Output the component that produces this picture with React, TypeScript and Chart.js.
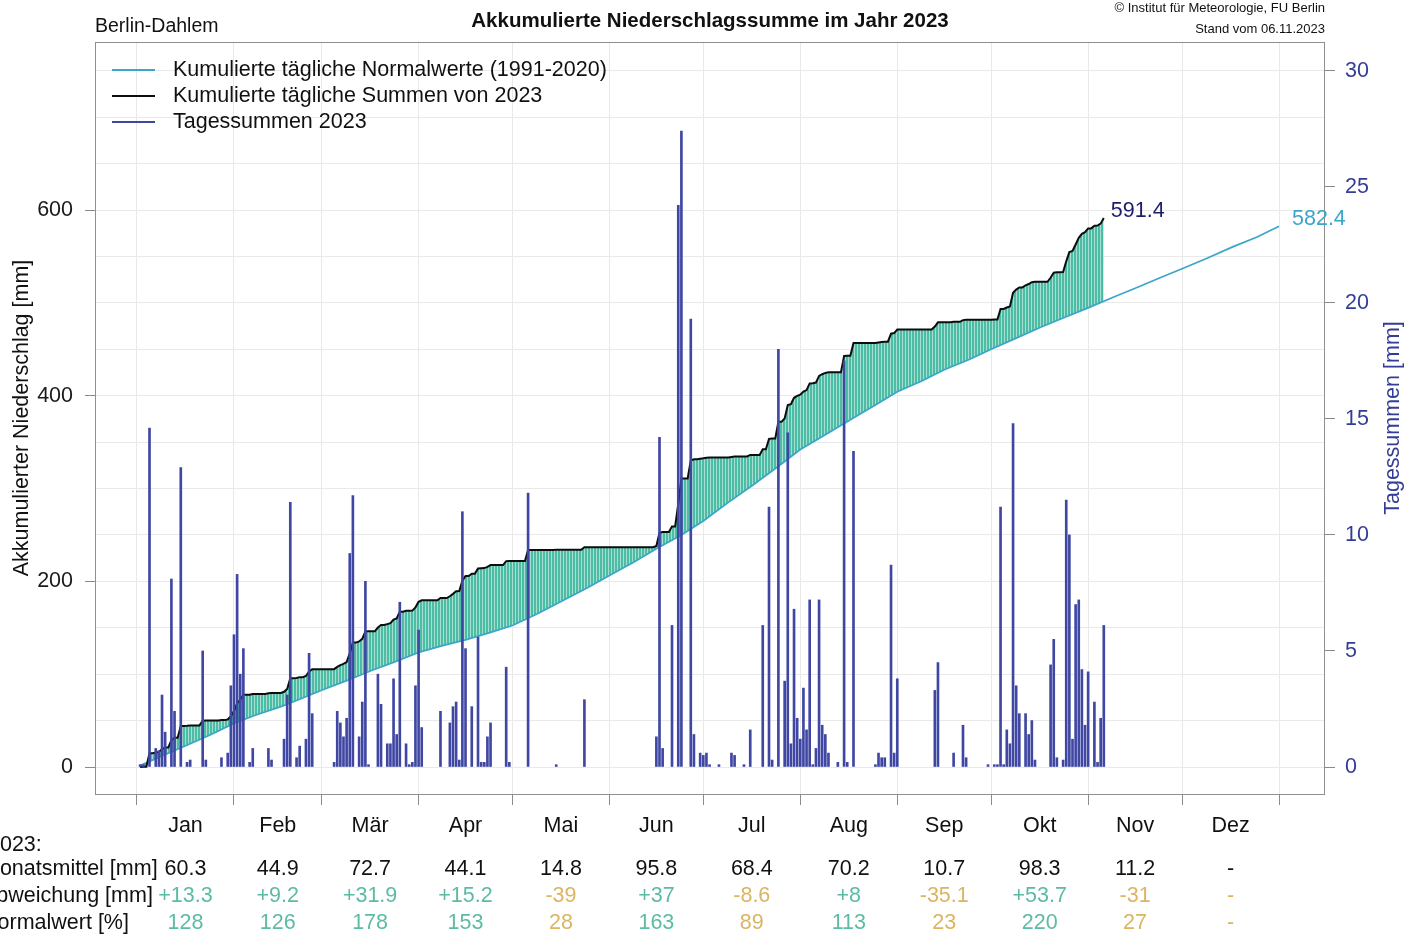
import React, { useEffect, useRef } from 'react';
import { Chart, registerables } from 'chart.js';
Chart.register(...registerables);

const FONT = '"Liberation Sans", Arial, Helvetica, sans-serif';

// ---------- data ----------
const monthNames = ['Jan', 'Feb', 'Mär', 'Apr', 'Mai', 'Jun', 'Jul', 'Aug', 'Sep', 'Okt', 'Nov', 'Dez'];
const monthStarts = [0, 31, 59, 90, 120, 151, 181, 212, 243, 273, 304, 334, 365];
const monthTotals = ['60.3', '44.9', '72.7', '44.1', '14.8', '95.8', '68.4', '70.2', '10.7', '98.3', '11.2', '-'];
const monthDeviation = ['+13.3', '+9.2', '+31.9', '+15.2', '-39', '+37', '-8.6', '+8', '-35.1', '+53.7', '-31', '-'];
const monthPercent = ['128', '126', '178', '153', '28', '163', '89', '113', '23', '220', '27', '-'];

const leftTickLabels = [0, 200, 400, 600];
const leftGridValues = [0, 50, 100, 150, 200, 250, 300, 350, 400, 450, 500, 550, 600, 650, 700, 750];
const rightTicks = [0, 5, 10, 15, 20, 25, 30];

// daily precipitation 2023 (day of year -> mm)
const rainDays = [
  1, 2, 4, 6, 7, 8, 9, 11, 12, 14, 16, 17, 21, 22, 27, 29, 30, 31,
  32, 33, 34, 36, 37, 42, 43, 47, 48, 49, 51, 52, 54, 55, 56,
  63, 64, 65, 66, 67, 68, 69, 71, 72, 73, 74, 77, 78, 80, 81, 82, 83, 84, 86, 87, 88, 89, 90,
  91, 97, 100, 101, 102, 103, 104, 105, 107, 109, 110, 111, 112, 113, 118, 119,
  125, 134, 143,
  166, 167, 168, 171, 173, 174, 177, 178, 180, 181,
  182, 183, 186, 190, 191, 194, 196, 200, 202, 203, 205, 207, 208, 209, 210, 211, 212,
  213, 214, 215, 216, 217, 218, 219, 220, 221, 224, 226, 227, 229, 236, 237, 238, 239, 241, 242, 243,
  255, 256, 261, 264, 265, 272,
  274, 275, 276, 277, 278, 279, 280, 281, 282, 284, 285, 286, 287, 292, 293, 294, 296, 297, 298, 299, 300, 301, 302, 303, 304,
  306, 307, 308, 309,
];
const rainMm = [
  0.1, 0.1, 14.6, 0.8, 0.7, 3.1, 1.5, 8.1, 2.4, 12.9, 0.2, 0.3, 5.0, 0.3, 0.4, 0.6, 3.5, 5.7,
  8.3, 4.0, 5.1, 0.2, 0.8, 0.8, 0.3, 1.2, 3.1, 11.4, 0.4, 0.9, 1.2, 4.9, 2.3,
  0.2, 2.4, 1.9, 1.3, 2.1, 9.2, 11.7, 1.3, 2.8, 8.0, 0.1, 4.0, 2.7, 1.0, 1.0, 3.8, 1.4, 7.1, 1.0, 0.1, 0.2, 3.5, 5.9,
  1.7, 2.4, 1.9, 2.6, 2.8, 0.3, 11.0, 5.1, 2.6, 5.6, 0.2, 0.2, 1.3, 1.9, 4.3, 0.2,
  11.8, 0.1, 2.9,
  1.3, 14.2, 0.8, 6.1, 24.2, 27.4, 19.3, 1.4, 0.6, 0.5,
  0.6, 0.1, 0.1, 0.6, 0.5, 0.1, 1.6, 6.1, 11.2, 0.3, 18.0, 3.7, 14.4, 1.0, 6.8, 2.1, 1.2,
  3.4, 1.6, 7.2, 0.1, 0.8, 7.2, 1.8, 1.4, 0.6, 0.2, 17.5, 0.2, 13.6, 0.1, 0.6, 0.4, 0.4, 8.7, 0.6, 3.8,
  3.3, 4.5, 0.6, 1.8, 0.4, 0.1,
  0.1, 0.1, 11.2, 0.1, 1.6, 1.0, 14.8, 3.5, 2.3, 2.3, 1.4, 2.0, 0.3, 4.4, 5.5, 0.4, 0.3, 11.5, 10.0, 1.2, 7.0, 7.2, 4.2, 1.8, 4.1,
  2.8, 0.2, 2.1, 6.1,
];
const lastDay = 309;

// cumulative daily normals 1991-2020
const normalDays = [
  1, 8, 15, 23, 31, 38, 46, 52, 59, 67, 75, 83, 90, 98, 105, 113, 120, 128, 136, 144, 151,
  159, 166, 174, 181, 189, 197, 205, 212, 220, 228, 236, 243, 251, 258, 266, 273, 281, 289,
  297, 304, 312, 320, 327, 334, 342, 350, 358, 365,
];
const normalCum = [
  1.5, 12, 22, 34, 47, 56, 65, 73, 82.7, 93, 104, 114, 123.5, 131, 137, 145, 152.4, 165, 179, 193, 206.2,
  221, 235, 250, 265, 285, 304, 324, 342, 358, 374, 390, 404.2, 416, 428, 439, 450, 462, 474,
  485, 494.6, 506, 517, 527, 536.8, 548, 560, 571, 582.4,
];

const COL_NORMAL = '#3aa6c9';
const COL_SUM = '#0d0d0d';
const COL_BARS = '#3f47a3';
const COL_POS = '#5bbba5';
const COL_NEG = '#dcb462';

function textPlugin() {
  return {
    id: 'texts',
    afterDraw(chart: any) {
      const ctx: CanvasRenderingContext2D = chart.ctx;
      const xs = chart.scales.x;
      const ys = chart.scales.y;
      const a = chart.chartArea;
      ctx.save();
      // frame
      ctx.strokeStyle = '#8f8f8f';
      ctx.lineWidth = 1;
      ctx.strokeRect(a.left + 0.5, a.top + 0.5, a.right - a.left - 1, a.bottom - a.top - 1);

      ctx.textBaseline = 'middle';
      ctx.fillStyle = '#111';
      // header
      ctx.font = `19.5px ${FONT}`;
      ctx.textAlign = 'left';
      ctx.fillText('Berlin-Dahlem', 95, 27);
      ctx.font = `bold 20.5px ${FONT}`;
      ctx.textAlign = 'center';
      ctx.fillText('Akkumulierte Niederschlagssumme im Jahr 2023', 710, 21);
      ctx.font = `13px ${FONT}`;
      ctx.textAlign = 'right';
      ctx.fillText('© Institut für Meteorologie, FU Berlin', 1325, 8);
      ctx.fillText('Stand vom 06.11.2023', 1325, 29);

      // legend
      const leg = [
        ['Kumulierte tägliche Normalwerte (1991-2020)', COL_NORMAL],
        ['Kumulierte tägliche Summen von 2023', COL_SUM],
        ['Tagessummen 2023', COL_BARS],
      ];
      ctx.font = `21.5px ${FONT}`;
      ctx.textAlign = 'left';
      leg.forEach((l, i) => {
        const y = 70 + i * 26;
        ctx.strokeStyle = l[1];
        ctx.lineWidth = 2;
        ctx.beginPath();
        ctx.moveTo(112, y);
        ctx.lineTo(155, y);
        ctx.stroke();
        ctx.fillStyle = '#111';
        ctx.fillText(l[0], 173, y);
      });

      // axis titles
      ctx.save();
      ctx.translate(22, 418);
      ctx.rotate(-Math.PI / 2);
      ctx.textAlign = 'center';
      ctx.fillStyle = '#111';
      ctx.fillText('Akkumulierter Niederschlag [mm]', 0, 0);
      ctx.restore();
      ctx.save();
      ctx.translate(1393, 418);
      ctx.rotate(-Math.PI / 2);
      ctx.textAlign = 'center';
      ctx.fillStyle = '#343d96';
      ctx.fillText('Tagessummen [mm]', 0, 0);
      ctx.restore();

      // end labels
      const sd = chart.data.datasets[1].data;
      const sumEnd = sd[sd.length - 1];
      ctx.textAlign = 'left';
      ctx.fillStyle = '#1c1c6b';
      ctx.fillText(sumEnd.y.toFixed(1), xs.getPixelForValue(sumEnd.x) + 7, ys.getPixelForValue(sumEnd.y) - 7);
      const nEnd = normalCum[normalCum.length - 1];
      ctx.fillStyle = COL_NORMAL;
      ctx.fillText(nEnd.toFixed(1), xs.getPixelForValue(normalDays[normalDays.length - 1]) + 13, ys.getPixelForValue(nEnd) - 7);

      // month labels and table
      ctx.textAlign = 'center';
      for (let m = 0; m < 12; m++) {
        const cx = xs.getPixelForValue((monthStarts[m] + monthStarts[m + 1]) / 2);
        ctx.fillStyle = '#111';
        ctx.fillText(monthNames[m], cx, 826);
        ctx.fillText(monthTotals[m], cx, 869);
        const dev = monthDeviation[m];
        ctx.fillStyle = dev.startsWith('+') ? COL_POS : COL_NEG;
        ctx.fillText(dev, cx, 896);
        const p = monthPercent[m];
        ctx.fillStyle = p !== '-' && Number(p) >= 100 ? COL_POS : COL_NEG;
        ctx.fillText(p, cx, 923);
      }
      ctx.textAlign = 'left';
      ctx.fillStyle = '#111';
      ctx.fillText('2023:', -12, 845);
      ctx.fillText('Monatsmittel [mm]', -18, 869);
      ctx.fillText('Abweichung [mm]', -18, 896);
      ctx.fillText('Normalwert [%]', -18, 923);
      ctx.restore();
    },
  };
}

export default function App() {
  const ref = useRef<HTMLCanvasElement | null>(null);
  useEffect(() => {
    const canvas = ref.current;
    if (!canvas) return;
    const daily: number[] = new Array(lastDay + 1).fill(0);
    rainDays.forEach((d, i) => {
      daily[d] = rainMm[i];
    });
    const sumData: { x: number; y: number }[] = [];
    let acc = 0;
    for (let d = 1; d <= lastDay; d++) {
      acc += daily[d];
      sumData.push({ x: d, y: Math.round(acc * 10) / 10 });
    }

    const pc = document.createElement('canvas');
    pc.width = 3;
    pc.height = 4;
    const pctx = pc.getContext('2d')!;
    pctx.fillStyle = '#4cbca5';
    pctx.fillRect(0, 0, 3, 4);
    pctx.fillStyle = '#a6dfd2';
    pctx.fillRect(2, 0, 1, 4);
    const pattern = canvas.getContext('2d')!.createPattern(pc, 'repeat');

    const tickFont = { family: FONT, size: 21.5 };
    const chart = new Chart(canvas, {
      type: 'bar',
      data: {
        datasets: [
          {
            type: 'line',
            label: 'Kumulierte tägliche Normalwerte (1991-2020)',
            data: normalDays.map((d, i) => ({ x: d, y: normalCum[i] })),
            yAxisID: 'y',
            borderColor: COL_NORMAL,
            borderWidth: 1.7,
            pointRadius: 0,
            fill: false,
            order: 2,
          } as any,
          {
            type: 'line',
            label: 'Kumulierte tägliche Summen von 2023',
            data: sumData,
            yAxisID: 'y',
            borderColor: COL_SUM,
            borderWidth: 2,
            pointRadius: 0,
            fill: { target: 0, above: pattern, below: pattern },
            order: 1,
          } as any,
          {
            type: 'bar',
            label: 'Tagessummen 2023',
            data: rainDays.map((d, i) => ({ x: d, y: rainMm[i] })),
            yAxisID: 'y2',
            backgroundColor: COL_BARS,
            barThickness: 2,
            order: 0,
          } as any,
        ],
      },
      options: {
        responsive: false,
        animation: false,
        devicePixelRatio: 1,
        layout: { padding: { top: 42, left: 0, right: 0, bottom: 0 } },
        plugins: {
          legend: { display: false },
          tooltip: { enabled: false },
          filler: { drawTime: 'beforeDatasetsDraw' },
        } as any,
        scales: {
          x: {
            type: 'linear',
            min: -13.42,
            max: 379.7,
            offset: false,
            afterBuildTicks: (s: any) => {
              s.ticks = monthStarts.map((v) => ({ value: v }));
            },
            ticks: { callback: () => '', autoSkip: false, maxRotation: 0 },
            grid: { offset: false, color: '#e9e9e9', tickColor: '#8a8a8a', tickLength: 10, drawTicks: true },
            border: { display: false },
            afterFit: (s: any) => {
              s.height = 141;
            },
          } as any,
          y: {
            type: 'linear',
            position: 'left',
            min: -30.16,
            max: 780.97,
            afterBuildTicks: (s: any) => {
              s.ticks = leftGridValues.map((v) => ({ value: v }));
            },
            ticks: {
              callback: (v: any) => (leftTickLabels.includes(Number(v)) ? String(v) : ''),
              font: tickFont,
              color: '#1a1a1a',
              padding: 12,
              autoSkip: false,
            },
            grid: {
              color: '#e9e9e9',
              tickLength: 10,
              tickColor: (c: any) =>
                c.tick && leftTickLabels.includes(c.tick.value) ? '#8a8a8a' : 'rgba(0,0,0,0)',
            },
            border: { display: false },
            afterFit: (s: any) => {
              s.width = 95;
            },
          } as any,
          y2: {
            type: 'linear',
            position: 'right',
            min: -1.2064,
            max: 31.239,
            afterBuildTicks: (s: any) => {
              s.ticks = rightTicks.map((v) => ({ value: v }));
            },
            ticks: { font: tickFont, color: '#343d96', padding: 10, autoSkip: false },
            grid: { drawOnChartArea: false, tickLength: 10, tickColor: '#8a8a8a' },
            border: { display: false },
            afterFit: (s: any) => {
              s.width = 81;
            },
          } as any,
        },
      },
      plugins: [textPlugin()],
    });
    return () => chart.destroy();
  }, []);

  return (
    <div style={{ position: 'absolute', left: 0, top: 0, width: 1406, height: 936, background: '#fff' }}>
      <canvas ref={ref} width={1406} height={936} style={{ display: 'block', width: 1406, height: 936 }} />
    </div>
  );
}
